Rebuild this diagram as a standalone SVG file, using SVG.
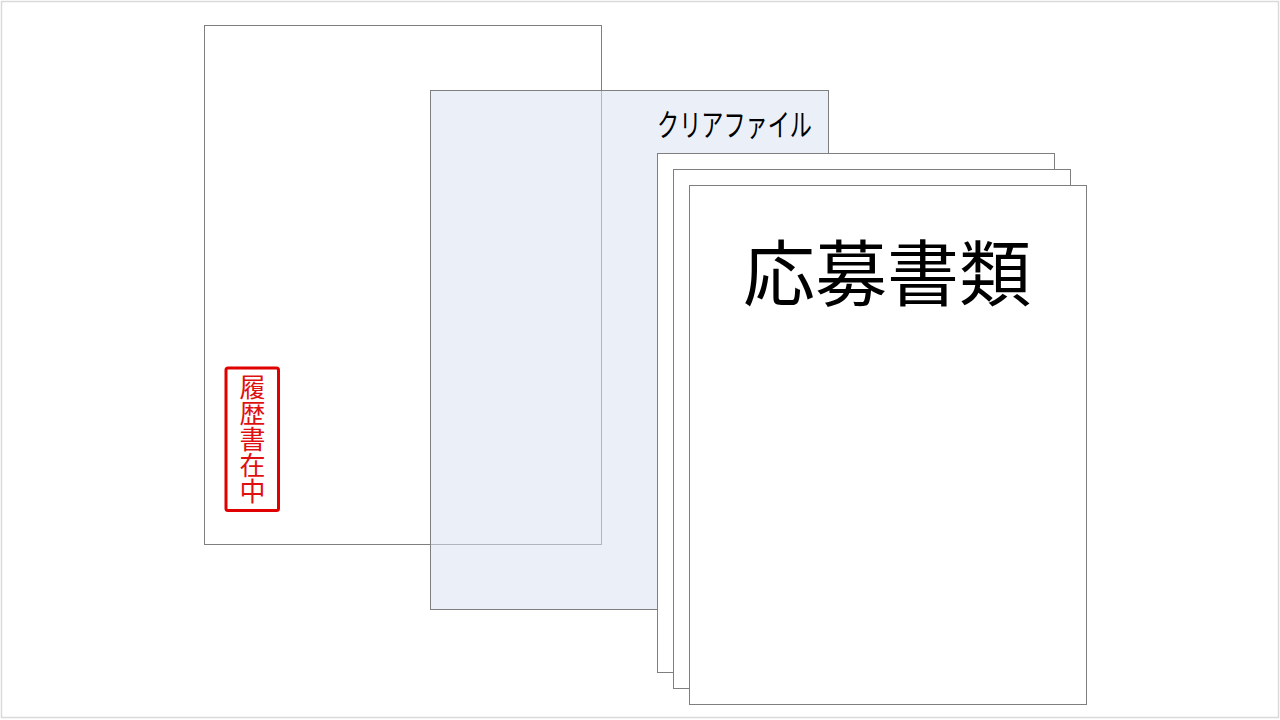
<svg xmlns="http://www.w3.org/2000/svg" width="1280" height="720" viewBox="0 0 1280 720">
<style>
.sheet{fill:#ffffff;stroke:#7f7f7f;stroke-width:1}
.jp{font-family:"Noto Sans CJK JP","Noto Sans",sans-serif}
</style>
<rect x="0" y="0" width="1280" height="720" fill="#ffffff"/>
<rect x="1.5" y="1.5" width="1277" height="716" fill="none" stroke="#d9d9d9" stroke-width="1.5"/>
<g id="envelope">
<rect class="sheet" x="204.5" y="25.5" width="397" height="519"/>
<rect x="226" y="368" width="52.5" height="142.5" rx="2" fill="none" stroke="#e00000" stroke-width="3"/>
<text class="jp" x="252.5" y="374" font-size="26" fill="#e01010" style="writing-mode:vertical-rl">履歴書在中</text>
</g>
<g id="clearfile">
<rect x="430.5" y="90.5" width="398" height="519" fill="#dae3f3" fill-opacity="0.55" stroke="#7f7f7f" stroke-width="1"/>
<text class="jp" x="657" y="136" font-size="31" fill="#000000" textLength="155" lengthAdjust="spacingAndGlyphs">クリアファイル</text>
</g>
<g id="paper1"><rect class="sheet" x="657.5" y="153.5" width="397" height="519"/></g>
<g id="paper2"><rect class="sheet" x="673.5" y="169.5" width="397" height="519"/></g>
<g id="paper3">
<rect class="sheet" x="689.5" y="185.5" width="397" height="519"/>
<text class="jp" x="887" y="300" font-size="72" fill="#000000" text-anchor="middle">応募書類</text>
</g>
<g id="connectors"/>
</svg>
